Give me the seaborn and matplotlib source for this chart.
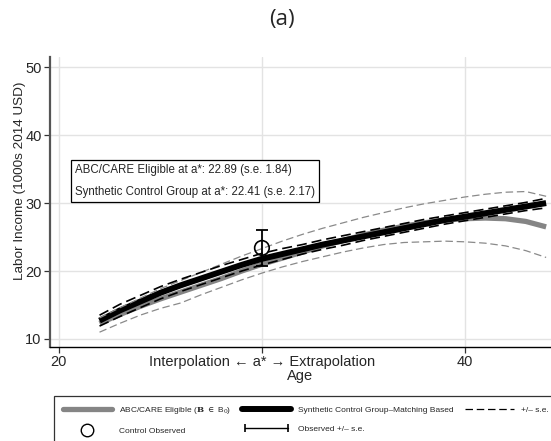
import matplotlib
matplotlib.use("Agg")
import matplotlib.pyplot as plt
import seaborn as sns
import numpy as np
from matplotlib.lines import Line2D
from matplotlib.legend_handler import HandlerLine2D

# ---------------- data ----------------
ages = [22, 23, 24, 25, 26, 27, 28, 29, 30, 31, 32, 33, 34, 35, 36, 37, 38, 39, 40, 41, 42, 43, 44]
abc_care = [12.3, 13.6, 14.8, 15.9, 16.9, 17.9, 18.9, 20.0, 21.0, 21.9, 22.8, 23.7, 24.5, 25.3, 26.0,
            26.6, 27.1, 27.5, 27.7, 27.8, 27.7, 27.3, 26.5]
abc_upper = [13.1, 14.6, 16.0, 17.4, 18.6, 19.8, 21.0, 22.2, 23.3, 24.4, 25.4, 26.3, 27.1, 27.9, 28.6,
             29.3, 29.9, 30.4, 30.9, 31.3, 31.6, 31.7, 31.0]
abc_lower = [11.0, 12.3, 13.5, 14.5, 15.3, 16.5, 17.6, 18.7, 19.7, 20.6, 21.4, 22.1, 22.8, 23.4, 23.9,
             24.2, 24.3, 24.4, 24.3, 24.1, 23.7, 23.0, 22.0]
synth = [12.7, 14.2, 15.5, 16.8, 17.9, 18.9, 19.9, 20.9, 21.8, 22.5, 23.2, 23.9, 24.5, 25.1, 25.7,
         26.3, 26.9, 27.5, 28.0, 28.5, 29.0, 29.5, 30.0]
synth_upper = [13.5, 15.1, 16.4, 17.7, 18.8, 19.8, 20.8, 21.7, 22.6, 23.3, 23.9, 24.6, 25.2, 25.8, 26.4,
               27.0, 27.6, 28.1, 28.6, 29.1, 29.6, 30.1, 30.7]
synth_lower = [11.9, 13.3, 14.6, 15.9, 17.0, 18.0, 19.0, 20.0, 20.9, 21.7, 22.5, 23.2, 23.8, 24.5, 25.1,
               25.7, 26.3, 26.9, 27.4, 27.9, 28.4, 28.9, 29.3]
obs_age = [30]
obs_value = [23.4]
obs_se = [2.65]

x_ticks = [20, 30, 40]
x_ticklabels = ["20", "Interpolation \u2190 a* \u2192 Extrapolation", "40"]
y_ticks = [10, 20, 30, 40, 50]
box_lines = ["ABC/CARE Eligible at a*: 22.89 (s.e. 1.84)",
             "Synthetic Control Group at a*: 22.41 (s.e. 2.17)"]

# ---------------- style ----------------
sns.set_style("white")
plt.rcParams["font.family"] = ["Liberation Sans", "DejaVu Sans"]
plt.rcParams["mathtext.fontset"] = "dejavuserif"

fig = plt.figure(figsize=(5.51, 4.41), dpi=100)
ax = fig.add_axes([50 / 551, 1 - 347 / 441, 501 / 551, 290 / 441])

GRAY = "#858585"
DGRAY = "#8a8a8a"

sns.lineplot(x=ages, y=abc_care, ax=ax, color=GRAY, lw=3.8, zorder=3, solid_capstyle="butt")
sns.lineplot(x=ages, y=synth, ax=ax, color="black", lw=4.3, zorder=4, solid_capstyle="butt")
sns.lineplot(x=ages, y=abc_upper, ax=ax, color=DGRAY, lw=0.9, linestyle=(0, (6, 3)), zorder=5)
sns.lineplot(x=ages, y=abc_lower, ax=ax, color=DGRAY, lw=0.9, linestyle=(0, (6, 3)), zorder=5)
sns.lineplot(x=ages, y=synth_upper, ax=ax, color="black", lw=1.2, linestyle=(0, (6, 3)), zorder=6)
sns.lineplot(x=ages, y=synth_lower, ax=ax, color="black", lw=1.2, linestyle=(0, (6, 3)), zorder=6)

ax.errorbar(obs_age, obs_value, yerr=obs_se, fmt="none", ecolor="black", elinewidth=1.3,
            capsize=4, capthick=1.3, zorder=7)
sns.scatterplot(x=obs_age, y=obs_value, ax=ax, s=110, facecolor="none", edgecolor="black",
                linewidth=1.2, zorder=8)

ax.set_xlim(19.56, 44.24)
ax.set_ylim(8.82, 51.5)
ax.set_xticks(x_ticks)
ax.set_xticklabels(x_ticklabels, fontsize=10.5)
ax.set_yticks(y_ticks)
ax.set_yticklabels([str(v) for v in y_ticks], fontsize=10.5)
ax.tick_params(axis="both", direction="out", length=4, width=0.9, color="#333333", pad=2, bottom=True, left=True)
ax.grid(True, color="#e3e3e3", lw=1.0)
ax.set_axisbelow(True)

for s in ["top", "right"]:
    ax.spines[s].set_visible(False)
ax.spines["left"].set_color("#555555")
ax.spines["left"].set_linewidth(1.6)
ax.spines["bottom"].set_color("black")
ax.spines["bottom"].set_linewidth(1.0)

ax.set_xlabel("Age", fontsize=10.5, labelpad=0)
ax.set_ylabel("Labor Income (1000s 2014 USD)", fontsize=9.7)
ax.yaxis.set_label_coords(-0.048, 0.572)

ax.text(0.05, 0.572, box_lines[0] + "\n" + box_lines[1], transform=ax.transAxes,
        fontsize=8.3, va="center", ha="left", linespacing=2.05, zorder=9,
        bbox=dict(boxstyle="square,pad=0.35", fc="white", ec="black", lw=0.9))

fig.text(0.511, 1 - 20 / 441, "(a)", ha="center", va="center", fontsize=16,
         family=["Open Sans", "DejaVu Sans"])

# ---------------- legend ----------------
h_abc = Line2D([], [], color=GRAY, lw=3.8)
h_obs = Line2D([], [], ls="none", marker="o", ms=9, mfc="white", mec="black", mew=1.0)
h_syn = Line2D([], [], color="black", lw=4.3)
h_err = Line2D([], [], color="black", lw=1.0, marker="|", ms=6, mew=1.2)
h_se = Line2D([], [], color="black", lw=0.9, linestyle=(0, (6, 3)))
handles = [h_abc, h_obs, h_syn, h_err, h_se]
labels = [r"ABC/CARE Eligible ($\mathbf{B}$ $\in$ B$_0$)", "Control Observed",
          "Synthetic Control Group\u2013Matching Based", "Observed +/\u2013 s.e.", "+/\u2013 s.e."]
leg = fig.legend(handles, labels, loc="upper left", bbox_to_anchor=(54 / 551, 1 - 396 / 441),
                 ncol=3, fontsize=6.0, frameon=True, fancybox=False, edgecolor="black",
                 handlelength=5.8, handletextpad=0.85, columnspacing=1.4, labelspacing=1.3,
                 borderpad=1.1, borderaxespad=0,
                 handler_map={h_err: HandlerLine2D(numpoints=2)})
leg.get_frame().set_linewidth(0.9)

fig.savefig("out.png", dpi=100)
